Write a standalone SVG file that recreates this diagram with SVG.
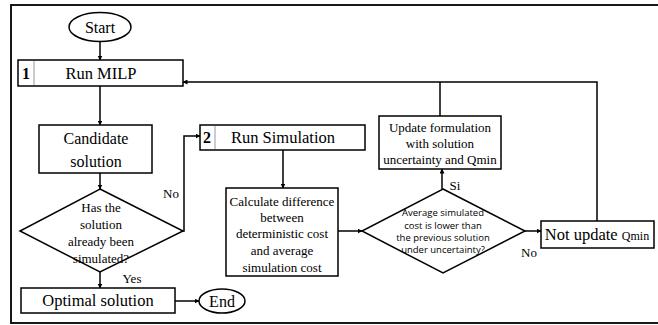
<svg xmlns="http://www.w3.org/2000/svg" width="658" height="325" viewBox="0 0 658 325">
<defs>
<marker id="ah" viewBox="0 0 10 10" refX="9" refY="5" markerWidth="5" markerHeight="5" orient="auto" markerUnits="userSpaceOnUse">
<path d="M0,0 L10,5 L0,10 z" fill="#000"/>
</marker>
<style>
.box{fill:#fff;stroke:#000;stroke-width:1.5}
.div{stroke:#999;stroke-width:1}
.ln{fill:none;stroke:#000;stroke-width:1.5;marker-end:url(#ah)}
.pl{fill:none;stroke:#000;stroke-width:1.5}
.t{font-family:'Liberation Serif','Times New Roman','DejaVu Serif',serif;fill:#000;text-anchor:middle}
.s{font-family:'Open Sans','Liberation Sans',sans-serif;fill:#000;text-anchor:middle;font-size:9.5px}
</style>
</defs>
<rect x="11" y="5" width="660" height="318" fill="#fff" stroke="#000" stroke-width="1.8"/>
<g id="connectors">
<line class="ln" x1="100" y1="42" x2="100" y2="60"/>
<line class="ln" x1="100" y1="86" x2="100" y2="125"/>
<line class="ln" x1="100" y1="173" x2="100" y2="189"/>
<line class="ln" x1="100" y1="272" x2="100" y2="288"/>
<line class="ln" x1="175" y1="301" x2="199" y2="301"/>
<polyline class="ln" points="183,231 184,231 184,136 200,136"/>
<line class="ln" x1="283" y1="150" x2="283" y2="188"/>
<line class="ln" x1="338" y1="231" x2="362" y2="231"/>
<line class="ln" x1="442" y1="189" x2="442" y2="169"/>
<line class="ln" x1="525" y1="231" x2="541" y2="231"/>
<polyline class="ln" points="597,221 597,82 183,82"/>
<line class="pl" x1="440" y1="116" x2="440" y2="82"/>
</g>
<g id="start">
<ellipse class="box" cx="100" cy="27" rx="31" ry="14.5"/>
<text class="t" x="100" y="33" font-size="16">Start</text>
</g>
<g id="run-milp">
<rect class="box" x="18" y="60" width="165" height="26"/>
<line class="div" x1="34" y1="61" x2="34" y2="85"/>
<text class="t" x="26" y="79" font-size="16" font-weight="bold">1</text>
<text class="t" x="101" y="79" font-size="16.5">Run MILP</text>
</g>
<g id="candidate">
<rect class="box" x="39" y="125" width="113" height="48"/>
<text class="t" x="96" y="144" font-size="16">Candidate</text>
<text class="t" x="96" y="167" font-size="16">solution</text>
</g>
<g id="decision-simulated">
<polygon class="box" points="100,189 183,231 100,272 20,231"/>
<text class="t" x="101" y="212" font-size="13">Has the</text>
<text class="t" x="101" y="229" font-size="13">solution</text>
<text class="t" x="101" y="246" font-size="13">already been</text>
<text class="t" x="101" y="263" font-size="13">simulated?</text>
</g>
<text class="t" x="171" y="198" font-size="13">No</text>
<text class="t" x="132" y="283" font-size="13">Yes</text>
<g id="optimal">
<rect class="box" x="21" y="288" width="154" height="25"/>
<text class="t" x="98" y="306" font-size="16.5">Optimal solution</text>
</g>
<g id="end">
<ellipse class="box" cx="222" cy="301" rx="23" ry="12"/>
<text class="t" x="222" y="307" font-size="16">End</text>
</g>
<g id="run-simulation">
<rect class="box" x="200" y="125" width="165" height="25"/>
<line class="div" x1="215" y1="126" x2="215" y2="149"/>
<text class="t" x="207" y="143" font-size="16" font-weight="bold">2</text>
<text class="t" x="283" y="143" font-size="16.5">Run Simulation</text>
</g>
<g id="calculate">
<rect class="box" x="226" y="188" width="112" height="88"/>
<text class="t" x="282" y="206" font-size="13">Calculate difference</text>
<text class="t" x="282" y="222" font-size="13">between</text>
<text class="t" x="282" y="238" font-size="13">deterministic cost</text>
<text class="t" x="282" y="255" font-size="13">and average</text>
<text class="t" x="282" y="272" font-size="13">simulation cost</text>
</g>
<g id="decision-cost">
<polygon class="box" points="443,189 525,231 443,273 362,231"/>
<text class="s" x="443" y="216">Average simulated</text>
<text class="s" x="443" y="229">cost is lower than</text>
<text class="s" x="443" y="241">the previous solution</text>
<text class="s" x="443" y="253">under uncertainty?</text>
</g>
<text class="t" x="455" y="190" font-size="13">Si</text>
<text class="t" x="529" y="257" font-size="13">No</text>
<g id="update">
<rect class="box" x="379" y="116" width="122" height="53"/>
<text class="t" x="440" y="132" font-size="13">Update formulation</text>
<text class="t" x="440" y="148" font-size="13">with solution</text>
<text class="t" x="440" y="164" font-size="13">uncertainty and Qmin</text>
</g>
<g id="not-update">
<rect class="box" x="541" y="221" width="113" height="27"/>
<text class="t" x="597" y="240" font-size="16.5"><tspan>Not update </tspan><tspan font-size="12">Qmin</tspan></text>
</g>
</svg>
